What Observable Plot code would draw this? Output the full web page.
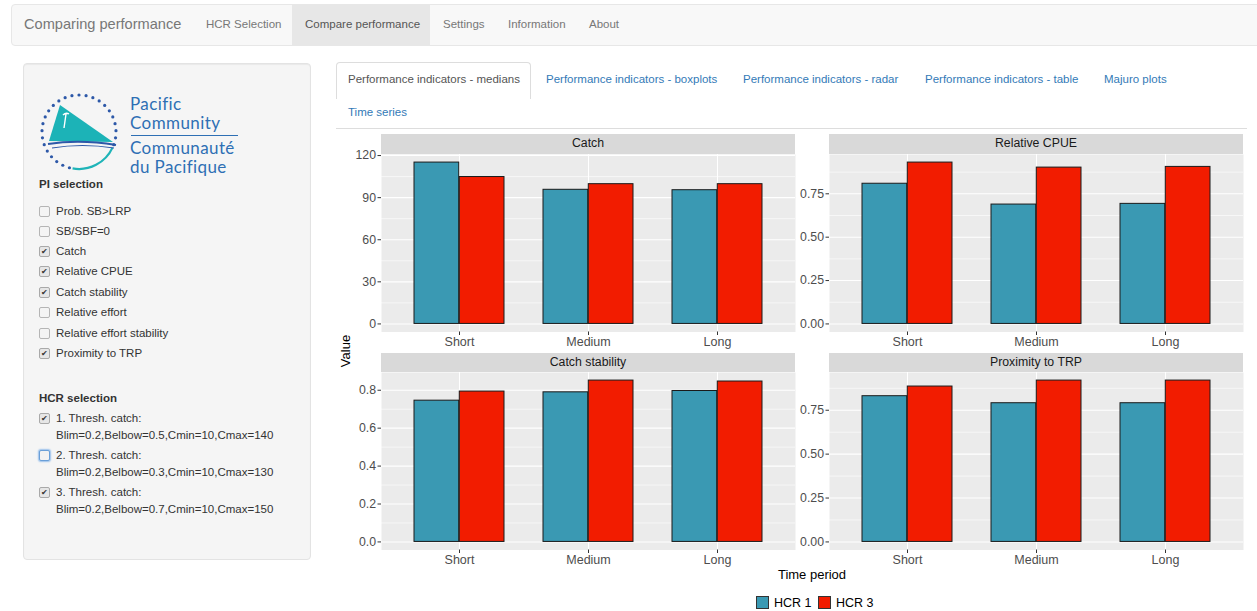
<!DOCTYPE html>
<html><head><meta charset="utf-8">
<script src="https://cdn.jsdelivr.net/npm/d3@7"></script>
<script src="https://cdn.jsdelivr.net/npm/@observablehq/plot@0.6"></script>
<style>
html,body{margin:0;padding:0;background:#fff;}
body{font-family:"Liberation Sans",Arial,Helvetica,sans-serif;font-size:11.5px;color:#333;}
#page{position:relative;width:1257px;height:611px;overflow:hidden;}
.abs{position:absolute;white-space:nowrap;}
.t{position:absolute;white-space:nowrap;height:16px;line-height:16px;}
.cb{position:absolute;width:9px;height:9px;border:1px solid #a9a9a9;border-radius:2px;background:#e6e6e6;font-size:8px;line-height:9px;text-align:center;color:#333;}
.cb.off{background:#f4f4f4;border-color:#b5b5b5;}
.cb.focus{border-color:#6a9fd8;box-shadow:0 0 1.5px 1px #9cc2ec;background:#f2f2f2;}
.strip{position:absolute;background:#d9d9d9;color:#1a1a1a;font-size:12.3px;text-align:center;}
.leg{position:absolute;width:11px;height:11px;border:1px solid #333;}
</style>
</head><body>
<div id="page"></div>
<script>
// ---------- data ----------
const periods = ["Short", "Medium", "Long"];
const hcrs = ["HCR 1", "HCR 3"];
const indicators = ["Catch", "Relative CPUE", "Catch stability", "Proximity to TRP"];
const catchHCR1 = [115.0, 95.6, 95.3];
const catchHCR3 = [104.7, 99.6, 99.6];
const cpueHCR1 = [0.808, 0.688, 0.692];
const cpueHCR3 = [0.930, 0.901, 0.905];
const stabHCR1 = [0.745, 0.789, 0.796];
const stabHCR3 = [0.793, 0.851, 0.846];
const trpHCR1 = [0.830, 0.790, 0.790];
const trpHCR3 = [0.885, 0.919, 0.919];
const catchTicks = [0, 30, 60, 90, 120];
const cpueTicks = [0, 0.25, 0.5, 0.75];
const stabTicks = [0, 0.2, 0.4, 0.6, 0.8];
const trpTicks = [0, 0.25, 0.5, 0.75];
const hcrColors = ["#3a99b3", "#f21c00"];

const navItems = ["HCR Selection", "Compare performance", "Settings", "Information", "About"];
const piItems = ["Prob. SB>LRP", "SB/SBF=0", "Catch", "Relative CPUE", "Catch stability", "Relative effort", "Relative effort stability", "Proximity to TRP"];
const piChecked = [false, false, true, true, true, false, false, true];
const hcrItems = [["1. Thresh. catch:", "Blim=0.2,Belbow=0.5,Cmin=10,Cmax=140"], ["2. Thresh. catch:", "Blim=0.2,Belbow=0.3,Cmin=10,Cmax=130"], ["3. Thresh. catch:", "Blim=0.2,Belbow=0.7,Cmin=10,Cmax=150"]];
const hcrChecked = [true, false, true];
const tabItems = ["Performance indicators - medians", "Performance indicators - boxplots", "Performance indicators - radar", "Performance indicators - table", "Majuro plots", "Time series"];

// ---------- helpers ----------
const page = document.getElementById("page");
function el(tag, cls, css, text) {
  const e = document.createElement(tag);
  if (cls) e.className = cls;
  Object.assign(e.style, css || {});
  if (text != null) e.textContent = text;
  page.appendChild(e);
  return e;
}
function txt(s, x, cy, css) { return el("div", "t", Object.assign({left: x + "px", top: (cy - 8) + "px"}, css || {}), s); }

// ---------- navbar ----------
el("div", "abs", {left: "11px", top: "4px", width: "1260px", height: "40px", background: "#f8f8f8", border: "1px solid #e7e7e7", borderRadius: "4px"});
el("div", "abs", {left: "292px", top: "5px", width: "138px", height: "40px", background: "#e7e7e7"});
txt("Comparing performance", 24, 24, {fontSize: "14.6px", color: "#777"});
const navX = [206, 305, 443, 508, 589];
navItems.forEach((s, i) => txt(s, navX[i], 24, {color: i === 1 ? "#555" : "#777"}));

// ---------- sidebar ----------
el("div", "abs", {left: "23px", top: "63px", width: "286px", height: "495px", background: "#f5f5f5", border: "1px solid #e3e3e3", borderRadius: "4px", boxShadow: "inset 0 1px 1px rgba(0,0,0,.05)"});
// logo (decorative)
const logo = document.createElementNS("http://www.w3.org/2000/svg", "svg");
logo.setAttribute("width", "110"); logo.setAttribute("height", "100");
Object.assign(logo.style, {position: "absolute", left: "30px", top: "85px"});
page.appendChild(logo);
let lg = "";
const cx = 49, cy = 47, r = 37;
for (let a = 105; a <= 385; a += 11) {
  const rad = a * Math.PI / 180;
  lg += `<circle cx="${cx + r * Math.cos(rad)}" cy="${cy + r * Math.sin(rad)}" r="1.6" fill="#2d58a8"/>`;
}
lg += `<path d="M${cx + r * Math.cos(25 * Math.PI / 180)} ${cy + r * Math.sin(25 * Math.PI / 180)} A ${r} ${r} 0 0 1 ${cx + r * Math.cos(100 * Math.PI / 180)} ${cy + r * Math.sin(100 * Math.PI / 180)}" fill="none" stroke="#1fb4b8" stroke-width="2.2"/>`;
lg += `<path d="M30 20 L19 56 L83 57 Z" fill="#1cb3b7"/>`;
lg += `<path d="M18 59 Q50 54 86 60" fill="none" stroke="#2d58a8" stroke-width="2"/>`;
lg += `<path d="M22 63 Q52 58 84 63" fill="none" stroke="#2d58a8" stroke-width="1.2"/>`;
lg += `<path d="M33 30 q3 -3 6 -1 M36 29 l-2 14" fill="none" stroke="#fff" stroke-width="1.4"/>`;
logo.innerHTML = lg;
const logoFont = {fontFamily: "Lato, 'Open Sans', sans-serif", fontSize: "17px", height: "17px", lineHeight: "17px", color: "#2e6fb4", letterSpacing: "0.4px"};
function ltxt(s, x, cyy) { return el("div", "abs", Object.assign({left: x + "px", top: (cyy - 8.5) + "px"}, logoFont), s); }
ltxt("Pacific", 130, 103);
ltxt("Community", 130, 122);
el("div", "abs", {left: "131px", top: "135px", width: "107px", height: "1px", background: "#2e6fb4"});
ltxt("Communauté", 130, 147);
ltxt("du Pacifique", 130, 166);

txt("PI selection", 39, 184, {fontWeight: "bold"});
const piY = [211, 231, 251, 271, 292, 312, 333, 353];
piItems.forEach((s, i) => {
  el("div", "cb" + (piChecked[i] ? "" : " off"), {left: "39px", top: (piY[i] - 5) + "px"}, piChecked[i] ? "✔" : "");
  txt(s, 56, piY[i]);
});
txt("HCR selection", 39, 398, {fontWeight: "bold"});
const hcrY = [418, 455, 492];
hcrItems.forEach((lines, i) => {
  el("div", "cb" + (hcrChecked[i] ? "" : " off focus"), {left: "39px", top: (hcrY[i] - 5) + "px"}, hcrChecked[i] ? "✔" : "");
  txt(lines[0], 56, hcrY[i]);
  txt(lines[1], 56, hcrY[i] + 17);
});

// ---------- tabs ----------
el("div", "abs", {left: "336px", top: "62px", width: "193px", height: "36px", background: "#fff", border: "1px solid #ddd", borderBottom: "none", borderRadius: "4px 4px 0 0"});
const tabPos = [[348, 79], [546, 79], [743, 79], [925, 79], [1104, 79], [348, 112]];
tabItems.forEach((s, i) => txt(s, tabPos[i][0], tabPos[i][1], {color: i === 0 ? "#555" : "#337ab7"}));
el("div", "abs", {left: "336px", top: "128px", width: "911px", height: "1px", background: "#ddd"});

// ---------- chart panels ----------
function makeData(v1, v3) {
  return periods.flatMap((p, i) => [{period: p, hcr: hcrs[0], value: v1[i]}, {period: p, hcr: hcrs[1], value: v3[i]}]);
}
const PW = 414, PH = 177.5;
function panel(title, data, ticks, fmt, svgLeft, panelLeft, stripTop) {
  const max = d3.max(data, d => d.value);
  const pad = max * 0.05;
  const n = periods.length, pIn = 0.3, pOut = 0.25;
  const step = PW / (n - pIn + 2 * pOut);
  const half = (1 - pIn) * step / 2;
  const dt = ticks[1] - ticks[0];
  const minor = d3.range(ticks[0] - dt / 2, max + pad, dt).filter(v => v > -pad && v < max + pad);
  const marginLeft = panelLeft - svgLeft;
  const chart = Plot.plot({
    width: marginLeft + PW + 6, height: PH + 26,
    marginLeft, marginRight: 6, marginTop: 0, marginBottom: 26,
    style: {fontFamily: "'Liberation Sans', Arial, sans-serif", fontSize: "12.3px", color: "#4d4d4d", background: "transparent", overflow: "visible"},
    x: {type: "band", domain: periods, paddingInner: pIn, paddingOuter: pOut, align: 0.5, label: null},
    y: {domain: [-pad, max + pad], label: null},
    marks: [
      Plot.frame({fill: "#ebebeb", stroke: "none"}),
      Plot.ruleY(minor, {stroke: "#fff", strokeWidth: 0.6}),
      Plot.gridY(ticks, {stroke: "#fff", strokeOpacity: 1, strokeWidth: 1.1}),
      Plot.gridX({stroke: "#fff", strokeOpacity: 1, strokeWidth: 1.1}),
      Plot.barY(data.filter(d => d.hcr === hcrs[0]), {x: "period", y: "value", fill: hcrColors[0], stroke: "#1a1a1a", strokeWidth: 1, insetRight: half}),
      Plot.barY(data.filter(d => d.hcr === hcrs[1]), {x: "period", y: "value", fill: hcrColors[1], stroke: "#1a1a1a", strokeWidth: 1, insetLeft: half}),
      Plot.axisY(ticks, {tickSize: 3.5, tickPadding: 2, tickFormat: fmt, stroke: "#333", fill: "#4d4d4d", label: null}),
      Plot.axisX({tickSize: 3.5, tickPadding: 1.5, stroke: "#333", fill: "#4d4d4d", label: null, fontSize: "12.5px"})
    ]
  });
  Object.assign(chart.style, {position: "absolute", left: svgLeft + "px", top: (stripTop + 19.5) + "px"});
  page.appendChild(chart);
  el("div", "strip", {left: panelLeft + "px", top: stripTop + "px", width: PW + "px", height: "19.5px", lineHeight: "19.5px"}, title);
}
panel(indicators[0], makeData(catchHCR1, catchHCR3), catchTicks, d3.format("d"), 336, 381, 134);
panel(indicators[1], makeData(cpueHCR1, cpueHCR3), cpueTicks, d3.format(".2f"), 790, 829, 134);
panel(indicators[2], makeData(stabHCR1, stabHCR3), stabTicks, d3.format(".1f"), 336, 381, 352.8);
panel(indicators[3], makeData(trpHCR1, trpHCR3), trpTicks, d3.format(".2f"), 790, 829, 352.8);

// axis titles
txt("Value", 346 - 20, 351, {fontSize: "13px", color: "#000", width: "40px", textAlign: "center", transform: "rotate(-90deg)"});
txt("Time period", 762, 575, {fontSize: "13px", color: "#000", width: "100px", textAlign: "center"});
// legend
el("div", "leg", {left: "756px", top: "596px", background: hcrColors[0]});
txt(hcrs[0], 774, 603, {fontSize: "12.5px", color: "#000"});
el("div", "leg", {left: "818px", top: "596px", background: hcrColors[1]});
txt(hcrs[1], 836, 603, {fontSize: "12.5px", color: "#000"});
</script>
</body></html>
